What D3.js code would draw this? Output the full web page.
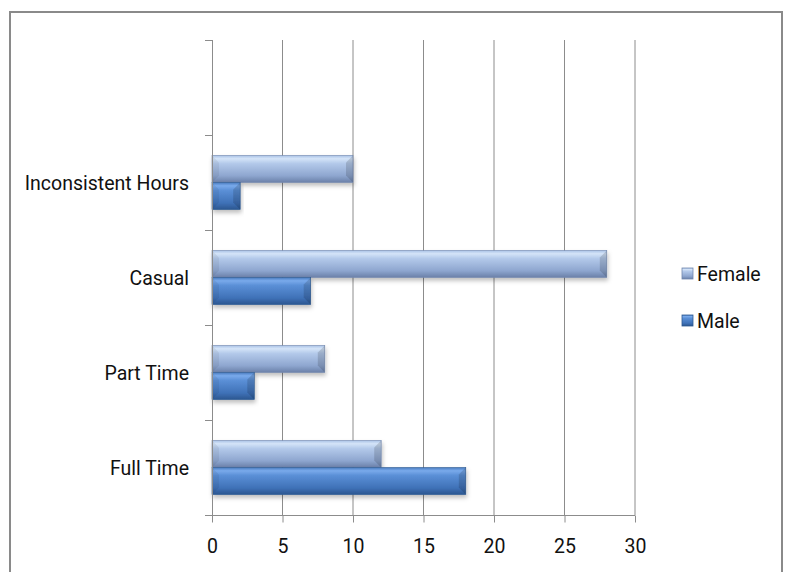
<!DOCTYPE html>
<html>
<head>
<meta charset="utf-8">
<script src="https://cdn.jsdelivr.net/npm/d3@7/dist/d3.min.js"></script>
<style>
  html, body { margin: 0; padding: 0; background: #fff; }
  svg { display: block; }
  text { font-family: Roboto, "Open Sans", sans-serif; fill: #111; }
</style>
</head>
<body>
<svg id="chart" width="785" height="572"></svg>
<script>
// Employment type by gender (counts)
const categories = ["", "Inconsistent Hours", "Casual", "Part Time", "Full Time"];
const series = ["Female", "Male"];
const femaleValues = [null, 10, 28, 8, 12];
const maleValues = [null, 2, 7, 3, 18];
const xTicks = [0, 5, 10, 15, 20, 25, 30];

const svg = d3.select("#chart");
const margin = { left: 212, top: 40 };
const plotW = 635 - margin.left;
const plotH = 515 - margin.top;
const fontSize = 19.5;

// outer frame (bottom edge runs past the page)
svg.append("rect")
  .attr("x", 10).attr("y", 12)
  .attr("width", 772).attr("height", 600)
  .attr("fill", "none").attr("stroke", "#8a8a8a").attr("stroke-width", 2);

const defs = svg.append("defs");
function grad(id, stops) {
  const g = defs.append("linearGradient").attr("id", id)
    .attr("x1", 0).attr("y1", 0).attr("x2", 0).attr("y2", 1);
  stops.forEach(s => g.append("stop").attr("offset", s[0]).attr("stop-color", s[1]));
}
grad("gFemale", [[0, "#a9c2e6"], [0.12, "#d4e4f8"], [0.3, "#b3c9ea"], [0.75, "#8ea6cf"], [1, "#6a80a8"]]);
grad("gMale", [[0, "#4a7cc0"], [0.12, "#79aaeb"], [0.3, "#5a8fd6"], [0.75, "#3f72b8"], [1, "#2b5690"]]);
const shadow = defs.append("filter").attr("id", "shadow")
  .attr("x", "-5%").attr("y", "-20%").attr("width", "115%").attr("height", "160%");
shadow.append("feDropShadow").attr("dx", 1).attr("dy", 3).attr("stdDeviation", 2)
  .attr("flood-color", "#000").attr("flood-opacity", 0.25);

const g = svg.append("g").attr("transform", `translate(${margin.left},${margin.top})`);

const x = d3.scaleLinear().domain([0, 30]).range([0, plotW]);
const y = d3.scaleBand().domain(categories).range([0, plotH])
  .paddingInner(0.43).paddingOuter(0.215);
const ySub = d3.scaleBand().domain(series).range([0, y.bandwidth()]);

// vertical gridlines
g.selectAll("line.grid").data(xTicks.filter(t => t > 0)).join("line")
  .attr("class", "grid")
  .attr("x1", d => x(d)).attr("x2", d => x(d))
  .attr("y1", 0).attr("y2", plotH)
  .attr("stroke", "#8c8c8c").attr("stroke-width", 1);

// bars
const rows = categories.map((c, i) => ({ c, vals: [femaleValues[i], maleValues[i]] }))
  .filter(r => r.c !== "");
const fills = { Female: "url(#gFemale)", Male: "url(#gMale)" };
const strokes = { Female: "#7288ae", Male: "#2e5a92" };
rows.forEach(r => {
  series.forEach((s, k) => {
    const v = r.vals[k];
    const y0 = y(r.c) + ySub(s);
    const h = ySub.bandwidth();
    const w = x(v) - x(0);
    const bar = g.append("g").attr("filter", "url(#shadow)");
    bar.append("rect")
      .attr("x", x(0)).attr("y", y0).attr("width", w).attr("height", h)
      .attr("fill", fills[s]).attr("stroke", strokes[s]).attr("stroke-width", 0.6);
    // chamfered ends
    const b = Math.min(7, w / 2);
    bar.append("path")
      .attr("d", `M${x(0)},${y0}L${x(0) + b},${y0 + b}L${x(0) + b},${y0 + h - b}L${x(0)},${y0 + h}Z`)
      .attr("fill", "#000").attr("opacity", 0.06);
    bar.append("path")
      .attr("d", `M${x(v)},${y0}L${x(v) - b},${y0 + b}L${x(v) - b},${y0 + h - b}L${x(v)},${y0 + h}Z`)
      .attr("fill", "#000").attr("opacity", 0.14);
  });
});

// y axis with boundary ticks
g.append("line").attr("x1", 0.5).attr("x2", 0.5).attr("y1", 0).attr("y2", plotH)
  .attr("stroke", "#8c8c8c");
const bounds = categories.map(c => y(c) - y.step() * y.paddingInner() / 2).concat([plotH]);
g.selectAll("line.ytick").data(bounds).join("line")
  .attr("class", "ytick")
  .attr("x1", -7).attr("x2", 0.5)
  .attr("y1", d => Math.round(d) + 0.5).attr("y2", d => Math.round(d) + 0.5)
  .attr("stroke", "#8c8c8c");
g.selectAll("text.ylab").data(categories.filter(c => c !== "")).join("text")
  .attr("class", "ylab")
  .attr("x", -23).attr("y", d => y(d) + y.bandwidth() / 2 + 1)
  .attr("text-anchor", "end").attr("dominant-baseline", "central")
  .attr("font-size", fontSize)
  .text(d => d);

// x axis
const xAxis = g.append("g").attr("transform", `translate(0,${plotH + 0.5})`)
  .call(d3.axisBottom(x).tickValues(xTicks).tickSize(7).tickPadding(17).tickSizeOuter(0));
xAxis.select(".domain").attr("stroke", "#8c8c8c").attr("d", `M-7,0H${plotW}`);
xAxis.selectAll(".tick line").attr("stroke", "#8c8c8c");
xAxis.selectAll(".tick text").attr("font-size", fontSize).attr("fill", "#111")
  .style("font-family", "Roboto, \"Open Sans\", sans-serif");

// legend
const legend = svg.append("g").attr("transform", "translate(682,268)");
series.forEach((s, i) => {
  const row = legend.append("g").attr("transform", `translate(0,${i * 47})`);
  row.append("rect").attr("width", 11).attr("height", 11)
    .attr("fill", fills[s]).attr("stroke", strokes[s]).attr("stroke-width", 0.8);
  row.append("text").attr("x", 15).attr("y", 6).attr("dominant-baseline", "central")
    .attr("font-size", fontSize).text(s);
});
</script>
</body>
</html>
